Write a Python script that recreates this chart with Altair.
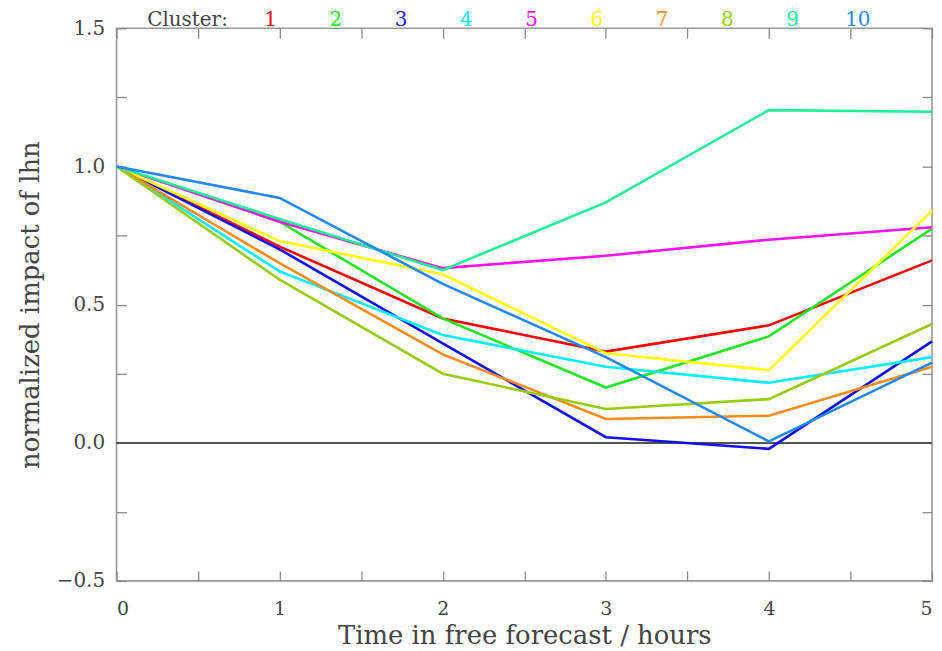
import altair as alt
import pandas as pd

hours = [0, 1, 2, 3, 4, 5]
clusters = ["1", "2", "3", "4", "5", "6", "7", "8", "9", "10"]
colors = ["#ff0000", "#22e622", "#1010f0", "#00f0ff", "#ff10f0",
          "#ffff00", "#ff8c1a", "#99cc11", "#22ee99", "#2288ff"]

c1 = [1.0, 0.71, 0.45, 0.33, 0.425, 0.66]
c2 = [1.0, 0.80, 0.45, 0.20, 0.385, 0.775]
c3 = [1.0, 0.70, 0.36, 0.02, -0.022, 0.367]
c4 = [1.0, 0.62, 0.39, 0.275, 0.217, 0.31]
c5 = [1.0, 0.80, 0.632, 0.677, 0.735, 0.78]
c6 = [1.0, 0.73, 0.61, 0.324, 0.263, 0.84]
c7 = [1.0, 0.65, 0.32, 0.086, 0.098, 0.275]
c8 = [1.0, 0.59, 0.25, 0.122, 0.158, 0.43]
c9 = [1.0, 0.81, 0.625, 0.87, 1.204, 1.198]
c10 = [1.0, 0.886, 0.575, 0.31, 0.005, 0.29]
series = [c1, c2, c3, c4, c5, c6, c7, c8, c9, c10]

x_ticks = [0, 0.5, 1, 1.5, 2, 2.5, 3, 3.5, 4, 4.5, 5]
x_labels = [0, 1, 2, 3, 4, 5]
y_ticks = [-0.5, -0.25, 0, 0.25, 0.5, 0.75, 1.0, 1.25, 1.5]
y_labels = [-0.5, 0.0, 0.5, 1.0, 1.5]

rows = []
for k, (c, s) in enumerate(zip(clusters, series)):
    for h, v in zip(hours, s):
        rows.append({"hour": h, "impact": v, "cluster": c, "order": k})
df = pd.DataFrame(rows)
legend_df = pd.DataFrame({"cluster": clusters, "idx": list(range(len(clusters)))})

FONT = "DejaVu Serif"
TXT = "#444444"
TICK = "#8a8a8a"

xscale = alt.Scale(domain=[0, 5], nice=False, zero=False)
yscale = alt.Scale(domain=[-0.5, 1.5], nice=False, zero=False)
cscale = alt.Scale(domain=clusters, range=colors)


def tick_axis(orient, values):
    return alt.Axis(orient=orient, offset=-10, values=values, ticks=True, tickSize=10,
                    tickColor=TICK, tickWidth=1.3, labels=False, domain=False,
                    grid=False, title=None)


lines = alt.Chart(df).mark_line(strokeWidth=2.6).encode(
    x=alt.X("hour:Q", scale=xscale,
            axis=alt.Axis(orient="bottom", values=x_labels, format="d", ticks=False,
                          domain=False, grid=False, labelPadding=19,
                          title="Time in free forecast / hours", titlePadding=4,
                          labelFont=FONT, labelFontSize=19, labelColor=TXT,
                          titleFont=FONT, titleFontSize=26, titleColor=TXT,
                          titleFontWeight="normal")),
    y=alt.Y("impact:Q", scale=yscale,
            axis=alt.Axis(orient="left", values=y_labels, format=".1f", ticks=False,
                          domain=False, grid=False, labelPadding=12,
                          title="normalized impact of lhn", titlePadding=13,
                          labelFont=FONT, labelFontSize=20, labelColor=TXT,
                          titleFont=FONT, titleFontSize=26, titleColor=TXT,
                          titleFontWeight="normal")),
    color=alt.Color("cluster:N", scale=cscale, legend=None),
    order=alt.Order("order:Q"),
)

zero = alt.Chart(df).mark_rule(color="#555555", strokeWidth=1).encode(
    y=alt.YDatum(0, scale=yscale, axis=None)
)

ticks_bl = alt.Chart(df).mark_point(opacity=0).encode(
    x=alt.X("hour:Q", scale=xscale, axis=tick_axis("bottom", x_ticks)),
    y=alt.Y("impact:Q", scale=yscale, axis=tick_axis("left", y_ticks)),
)
ticks_tr = alt.Chart(df).mark_point(opacity=0).encode(
    x=alt.X("hour:Q", scale=xscale, axis=tick_axis("top", x_ticks)),
    y=alt.Y("impact:Q", scale=yscale, axis=tick_axis("right", y_ticks)),
)

legend_nums = alt.Chart(legend_df).transform_calculate(
    xpos="0.945 + 0.4 * datum.idx"
).mark_text(font=FONT, fontSize=20, baseline="alphabetic", align="center").encode(
    x=alt.X("xpos:Q", scale=xscale, axis=None),
    y=alt.value(-2),
    text="cluster:N",
    color=alt.Color("cluster:N", scale=cscale, legend=None),
)

legend_title = alt.Chart(legend_df.head(1)).transform_calculate(
    xpos="0.945", label="'Cluster:'"
).mark_text(font=FONT, fontSize=20, baseline="alphabetic", align="right",
            dx=-43, color=TXT).encode(
    x=alt.X("xpos:Q", scale=xscale, axis=None),
    y=alt.value(-2),
    text="label:N",
)

chart = alt.layer(
    zero, ticks_bl, ticks_tr, lines, legend_nums, legend_title
).resolve_axis(
    x="independent", y="independent"
).properties(
    width=819, height=555,
    autosize=alt.AutoSizeParams(type="none"),
    padding={"left": 109, "top": 19, "right": 2, "bottom": 72},
).configure_view(
    stroke="#999999", strokeWidth=1.6
)

chart.save("out.html", embed_options={"renderer": "svg", "actions": False})
